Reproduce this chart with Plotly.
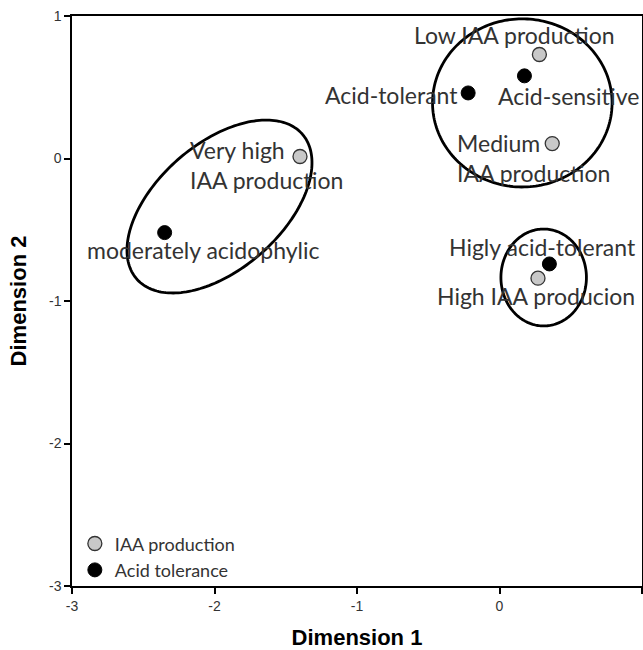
import numpy as np
import plotly.graph_objects as go

# ---- data ----
iaa_labels = ["Low IAA production", "Medium<br>IAA production", "Very high<br>IAA production", "High IAA producion"]
iaa_x = [0.28, 0.37, -1.40, 0.27]
iaa_y = [0.73, 0.105, 0.014, -0.84]

acid_labels = ["Acid-sensitive", "Acid-tolerant", "moderately acidophylic", "Higly acid-tolerant"]
acid_x = [0.175, -0.22, -2.35, 0.35]
acid_y = [0.58, 0.46, -0.52, -0.74]

# ellipses: center x, center y, semi-axis a, semi-axis b, rotation (deg)
ell_cx = [0.16, 0.31, -1.965]
ell_cy = [0.39, -0.835, -0.337]
ell_a = [0.63, 0.30, 0.772]
ell_b = [0.59, 0.34, 0.44]
ell_rot = [0.0, 0.0, 41.2]

x_ticks = [-3, -2, -1, 0, 1]
y_ticks = [-3, -2, -1, 0, 1]

# ---- label styles (anchor, pixel offsets from point) ----
iaa_style = [("center", -25, 19), ("left", -97, -14), ("left", -112, -8), ("right", 99, -18)]
acid_style = [("left", -28, -20), ("right", -8, -2), ("center", 38, -17), ("right", 89, 17)]

fig = go.Figure()
fig.add_trace(go.Scatter(
    x=iaa_x, y=iaa_y, mode="markers", name="IAA production",
    marker=dict(size=14, color="#c8c8c8", line=dict(color="#333333", width=1.3)),
))
fig.add_trace(go.Scatter(
    x=acid_x, y=acid_y, mode="markers", name="Acid tolerance",
    marker=dict(size=14, color="#000000", line=dict(color="#000000", width=1)),
))

label_font = dict(family="Lato, Carlito, sans-serif", size=23, color="#333333")
for labels, xs, ys, styles in [(iaa_labels, iaa_x, iaa_y, iaa_style), (acid_labels, acid_x, acid_y, acid_style)]:
    for t, x, y, (anc, dx, dy) in zip(labels, xs, ys, styles):
        fig.add_annotation(x=x, y=y, text=t, showarrow=False, xanchor=anc, yanchor="middle",
                           align="left", xshift=dx, yshift=dy, font=label_font)

for cx, cy, a, b, r in zip(ell_cx, ell_cy, ell_a, ell_b, ell_rot):
    t = np.linspace(0, 2 * np.pi, 200)
    th = np.deg2rad(r)
    px = cx + a * np.cos(t) * np.cos(th) - b * np.sin(t) * np.sin(th)
    py = cy + a * np.cos(t) * np.sin(th) + b * np.sin(t) * np.cos(th)
    path = "M " + " L ".join(f"{u:.4f},{v:.4f}" for u, v in zip(px, py)) + " Z"
    fig.add_shape(type="path", path=path, xref="x", yref="y", line=dict(color="black", width=2.8))

axis_common = dict(
    showgrid=False, zeroline=False, showline=True, linecolor="black", linewidth=1.5,
    mirror=True, ticks="outside", ticklen=6, tickwidth=1.5, tickcolor="black",
    tickfont=dict(family="Arial", size=14, color="#333333"), automargin=False,
)
fig.update_xaxes(range=[-3, 1], tickvals=x_ticks, ticktext=[str(v) for v in x_ticks],
                 title=dict(text="<b>Dimension 1</b>", font=dict(family="Arial", size=22, color="black"), standoff=20),
                 **axis_common)
fig.update_yaxes(range=[-3, 1], tickvals=y_ticks, ticktext=[str(v) for v in y_ticks],
                 title=dict(text="<b>Dimension 2</b>", font=dict(family="Arial", size=22, color="black"), standoff=16),
                 **axis_common)

fig.update_layout(
    width=643, height=650,
    margin=dict(l=72, r=1, t=16, b=64, autoexpand=False),
    plot_bgcolor="white", paper_bgcolor="white",
    legend=dict(x=0.005, y=-0.004, xanchor="left", yanchor="bottom", bgcolor="rgba(0,0,0,0)",
                font=dict(family="Lato, Carlito, sans-serif", size=18, color="#333333"),
                itemwidth=30, tracegroupgap=0),
    showlegend=True,
)
# remove the default page margin so the figure fills the window exactly
fig.write_html("out.html", config={"displayModeBar": False},
               post_script="document.body.style.margin='0';document.body.style.overflow='hidden';")
